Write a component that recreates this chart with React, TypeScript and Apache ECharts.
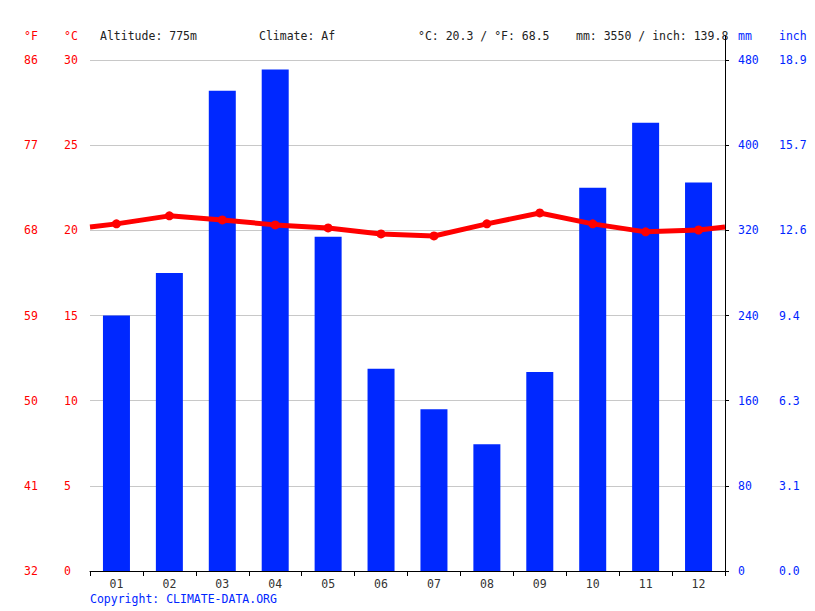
import React, { useEffect, useRef } from "react";
import * as echarts from "echarts";

const months = ["01", "02", "03", "04", "05", "06", "07", "08", "09", "10", "11", "12"];
const precipMm = [240, 280, 451, 471, 314, 190, 152, 119, 187, 360, 421, 365];
const tempC = [20.38, 20.85, 20.61, 20.32, 20.14, 19.79, 19.67, 20.38, 21.02, 20.38, 19.91, 20.02];
const headerAltitude = "Altitude: 775m";
const headerClimate = "Climate: Af";
const headerTemp = "°C: 20.3 / °F: 68.5";
const headerPrecip = "mm: 3550 / inch: 139.8";
const copyright = "Copyright: CLIMATE-DATA.ORG";

const FONT = "DejaVu Sans Mono";
const FS = 11.5;
const RED = "#ff0000";
const BLUE = "#0026ff";
const BAR = "#0028ff";

export default function App() {
  const ref = useRef<HTMLDivElement>(null);
  useEffect(() => {
    if (!ref.current) return;
    const chart = echarts.init(ref.current, undefined, { renderer: "svg" });
    const edge = (tempC[0] + tempC[11]) / 2;
    const lineData: any[] = [{ value: [0, edge], symbol: "none" }];
    tempC.forEach((t, i) => lineData.push([i + 0.5, t]));
    lineData.push({ value: [12, edge], symbol: "none" });

    const gl = 90, gr = 725, gt = 60, gb = 571;
    const txt = (x: number, y: number, text: string, fill: string) => ({
      type: "text",
      x,
      y,
      style: { text, fill, font: `${FS}px "${FONT}"`, textVerticalAlign: "middle" },
    });

    chart.setOption({
      animation: false,
      textStyle: { fontFamily: FONT, fontSize: FS },
      grid: { left: gl, right: 815 - gr, top: gt, bottom: 611 - gb, containLabel: false },
      xAxis: [
        {
          type: "category",
          data: months,
          axisLine: { lineStyle: { color: "#000", width: 1 } },
          axisTick: { show: true, length: 5, lineStyle: { color: "#000" } },
          axisLabel: { color: "#333", fontFamily: FONT, fontSize: FS, margin: 7 },
          splitLine: { show: false },
        },
        { type: "value", min: 0, max: 12, show: false },
      ],
      yAxis: [
        {
          type: "value",
          min: 0,
          max: 30,
          interval: 5,
          position: "left",
          axisLine: { show: false },
          axisTick: { show: false },
          axisLabel: { color: RED, fontFamily: FONT, fontSize: FS, align: "left", margin: 26 },
          splitLine: { show: true, lineStyle: { color: "#c8c8c8", width: 1 } },
        },
        {
          type: "value",
          min: 32,
          max: 86,
          interval: 9,
          position: "left",
          axisLine: { show: false },
          axisTick: { show: false },
          axisLabel: { color: RED, fontFamily: FONT, fontSize: FS, align: "left", margin: 66 },
          splitLine: { show: false },
        },
        {
          type: "value",
          min: 0,
          max: 480,
          interval: 80,
          position: "right",
          axisLine: { show: true, lineStyle: { color: "#000", width: 1 } },
          axisTick: { show: true, length: 4, lineStyle: { color: "#000" } },
          axisLabel: { color: BLUE, fontFamily: FONT, fontSize: FS, align: "left", margin: 13 },
          splitLine: { show: false },
        },
        {
          type: "value",
          min: 0,
          max: 480,
          interval: 80,
          position: "right",
          axisLine: { show: false },
          axisTick: { show: false },
          axisLabel: {
            color: BLUE,
            fontFamily: FONT,
            fontSize: FS,
            align: "left",
            margin: 54,
            formatter: (v: number) => (v / 25.4).toFixed(1),
          },
          splitLine: { show: false },
        },
      ],
      series: [
        {
          type: "bar",
          xAxisIndex: 0,
          yAxisIndex: 2,
          data: precipMm,
          barWidth: 27,
          itemStyle: { color: BAR },
          z: 2,
        },
        {
          type: "line",
          xAxisIndex: 1,
          yAxisIndex: 0,
          data: lineData,
          symbol: "circle",
          symbolSize: 9,
          lineStyle: { color: RED, width: 5 },
          itemStyle: { color: RED },
          z: 5,
        },
      ],
      graphic: [
        txt(24, 36, "°F", RED),
        txt(64, 36, "°C", RED),
        txt(100, 36, headerAltitude, "#222"),
        txt(259, 36, headerClimate, "#222"),
        txt(418, 36, headerTemp, "#222"),
        txt(576, 36, headerPrecip, "#222"),
        txt(738, 36, "mm", BLUE),
        txt(779, 36, "inch", BLUE),
        txt(90, 599, copyright, BLUE),
        {
          type: "line",
          shape: { x1: gr + 0.5, y1: 36, x2: gr + 0.5, y2: gt },
          style: { stroke: "#000", lineWidth: 1 },
          z: 10,
        },
      ],
    });
    return () => chart.dispose();
  }, []);
  return <div ref={ref} style={{ width: 815, height: 611, position: "absolute", left: 0, top: 0 }} />;
}
